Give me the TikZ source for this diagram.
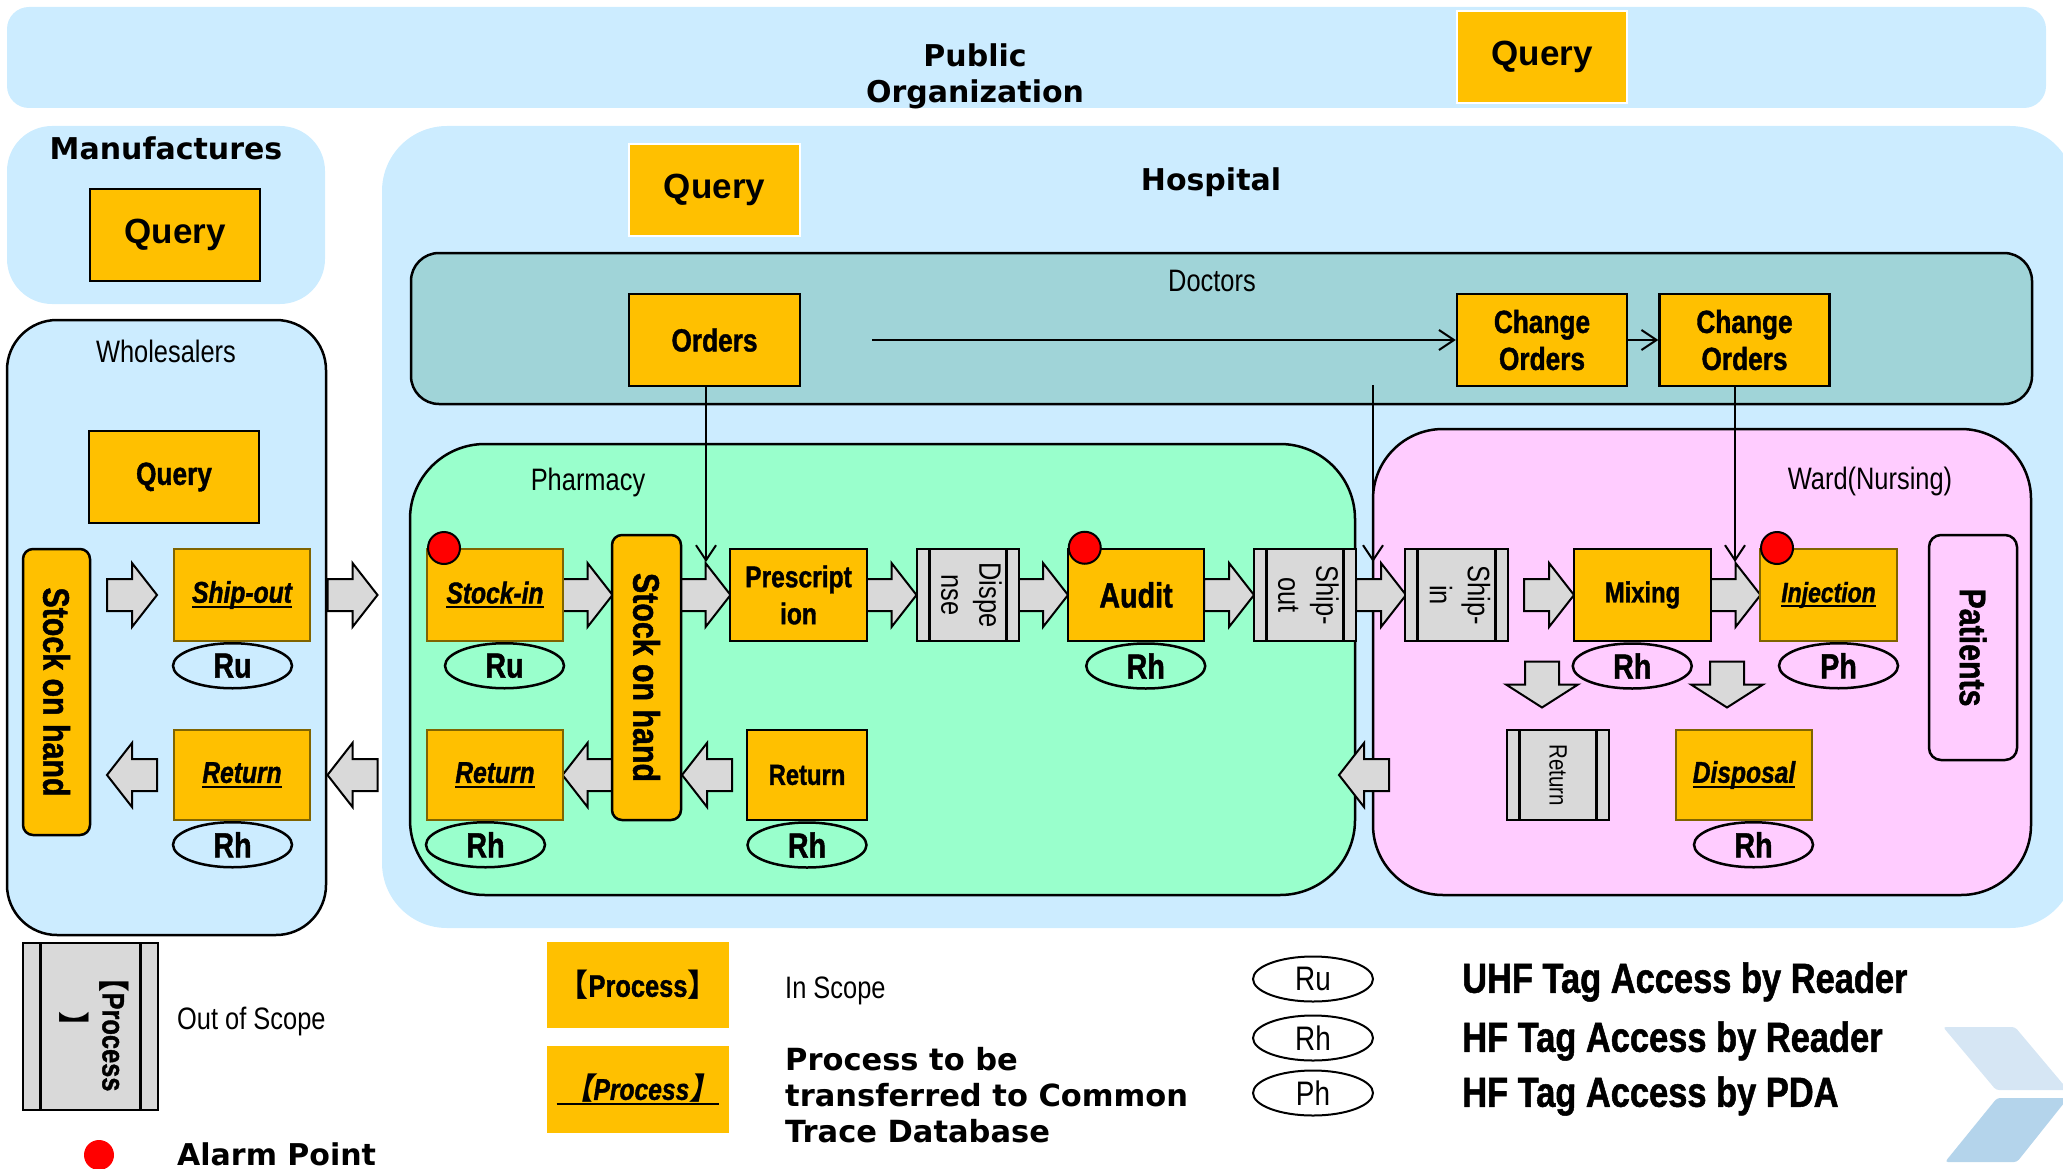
\documentclass[tikz,border=0pt]{standalone}
\usepackage{graphicx}
\usepackage{fontspec}
\setmainfont{Liberation Sans}
\newfontfamily\narrow[FakeStretch=0.82,BoldFeatures={FakeBold=1.2},BoldItalicFeatures={FakeBold=1.2}]{Liberation Sans}
\newfontfamily\heavy{DejaVu Sans}
\newfontfamily\cjk{Noto Sans CJK SC}
\newfontfamily\cjkit[FakeSlant=0.2]{Noto Sans CJK SC}
\usepackage{tikz}
\usetikzlibrary{arrows.meta}
\usetikzlibrary{positioning}
\usetikzlibrary{shapes.geometric}

\definecolor{procfill}{RGB}{255,192,0}
\definecolor{procedge}{RGB}{128,100,0}
\definecolor{outfill}{RGB}{217,217,217}
\definecolor{skyfill}{RGB}{204,236,255}
\definecolor{docfill}{RGB}{160,212,216}
\definecolor{pharmfill}{RGB}{153,255,204}
\definecolor{wardfill}{RGB}{255,204,255}
\definecolor{chevlight}{RGB}{214,230,244}
\definecolor{chevdark}{RGB}{180,212,235}

\newcommand\fsz[2]{\fontsize{#1}{#2}\selectfont}
\newcommand\dbline[1]{\sbox0{#1}\rlap{\rule[-5pt]{\wd0}{2.2pt}}\usebox0}

\begin{document}
\begin{tikzpicture}[x=1pt,y=-1pt,>={Straight Barb[length=15pt,width=20pt]},
  in box/.style={rectangle,draw=black,line width=2.5pt,fill=procfill,minimum width=136pt,
    minimum height=92pt,inner sep=0pt,align=center,font=\narrow\bfseries\fsz{30}{37}},
  db box/.style={in box,draw=procedge,line width=2pt,font=\narrow\bfseries\itshape\fsz{30}{37}},
  query box/.style={in box,minimum width=170pt,font=\bfseries\fsz{35}{40}},
  bar gap/.store in=\bargap,bar gap=12.5pt,
  out box/.style={rectangle,draw=black,line width=2.5pt,fill=outfill,minimum width=102pt,
    minimum height=92pt,inner sep=0pt,font=\narrow\fsz{31}{38},
    path picture={\draw[line width=2.5pt]
      ([xshift=\bargap]path picture bounding box.north west) -- ([xshift=\bargap]path picture bounding box.south west)
      ([xshift=-\bargap]path picture bounding box.north east) -- ([xshift=-\bargap]path picture bounding box.south east);}},
  stock box/.style={rectangle,rounded corners=10pt,draw=black,line width=2.5pt,fill=procfill,
    inner sep=0pt,font=\narrow\bfseries\fsz{37}{40}},
  tag node/.style={ellipse,draw=black,line width=2.5pt,minimum width=119pt,minimum height=45pt,
    inner sep=0pt,font=\narrow\bfseries\fsz{35}{40}},
  alarm node/.style={circle,draw=black,line width=2pt,fill=red,minimum size=32pt,inner sep=0pt},
  zone label/.style={inner sep=0pt,font=\narrow\fsz{31}{36}},
  title label/.style={inner sep=0pt,align=center,font=\heavy\bfseries\fsz{30}{36}},
  key label/.style={inner sep=0pt,anchor=west,font=\narrow\bfseries\fsz{42}{46}},
  link/.style={->,line width=2pt},
  fat arrow/.style={draw=black,line width=2pt,fill=outfill,line join=miter},
  fat right/.pic={\draw[fat arrow] (-25,-16) -- (0,-16) -- (0,-32) -- (25,0) -- (0,32) -- (0,16) -- (-25,16) -- cycle;},
  fat down/.pic={\draw[fat arrow] (-17,-23) -- (17,-23) -- (17,0) -- (36,0) -- (0,23) -- (-36,0) -- (-17,0) -- cycle;}]

  \path[use as bounding box,clip] (0,0) rectangle (2063,1169);

  % organisations
  \fill[skyfill,rounded corners=22pt] (7,7) rectangle (2046,108);
  \fill[skyfill,rounded corners=45pt] (7,126) rectangle (325,304);
  \draw[fill=skyfill,line width=2.5pt,rounded corners=50pt] (7,320) rectangle (326,935);
  \fill[skyfill,rounded corners=65pt] (382,126) rectangle (2075,928);
  \draw[fill=docfill,line width=2.5pt,rounded corners=28pt] (411,253) rectangle (2032,404);
  \draw[fill=pharmfill,line width=2.5pt,rounded corners=75pt] (410,444) rectangle (1355,895);
  \draw[fill=wardfill,line width=2.5pt,rounded corners=70pt] (1373,429) rectangle (2031,895);

  \node[title label] (pubname) at (975,76) {Public\\Organization};
  \node[title label] (manname) at (166,148) {Manufactures};
  \node[title label] (hospname) at (1211,182) {Hospital};
  \node[zone label] (wholename) at (166,351) {Wholesalers};
  \node[zone label] (docname) at (1212,281) {Doctors};
  \node[zone label] (pharmname) at (588,482) {Pharmacy};
  \node[zone label] (wardname) at (1870,481) {Ward(Nursing)};

  % goods flow
  \pic at (132,595) {fat right};
  \pic at (352.5,595) {fat right};
  \pic[rotate=180] at (132,775) {fat right};
  \pic[rotate=180] at (352.5,775) {fat right};
  \pic at (587.5,595) {fat right};
  \pic at (705.5,595) {fat right};
  \pic at (891.5,595) {fat right};
  \pic at (1043,595) {fat right};
  \pic at (1229,595) {fat right};
  \pic at (1381,595) {fat right};
  \pic at (1549,595) {fat right};
  \pic at (1735.5,595) {fat right};
  \pic[rotate=180] at (587.5,775) {fat right};
  \pic[rotate=180] at (707,775) {fat right};
  \pic[rotate=180] at (1364,775) {fat right};
  \pic at (1542,684.5) {fat down};
  \pic at (1727,684.5) {fat down};

  \node[query box,draw=white,line width=2pt] (pubq) at (1542,57) {Query};
  \node[query box] (manq) at (175,235) {Query};
  \node[query box,draw=white,line width=2pt,minimum width=171pt] (hospq) at (714.5,190) {Query};

  \node[in box,minimum width=170pt,font=\narrow\bfseries\fsz{32}{37}] (wholeq) at (174,477) {Query};
  \node[stock box,minimum width=67pt,minimum height=286pt] (wholesoh) at (56.5,692) {\rotatebox{-90}{Stock on hand}};
  \node[db box] (wholeship) at (242,595) {\dbline{Ship-out}};
  \node[db box,minimum height=90pt] (wholeret) at (242,775) {\dbline{Return}};

  \node[in box,minimum width=171pt,font=\narrow\bfseries\fsz{32}{37}] (orders) at (714.5,340) {Orders};
  \node[in box,minimum width=170pt,font=\narrow\bfseries\fsz{32}{37}] (chg1) at (1542,340) {Change\\Orders};
  \node[in box,minimum width=170pt,font=\narrow\bfseries\fsz{32}{37}] (chg2) at (1744.5,340) {Change\\Orders};

  \node[db box] (stockin) at (495,595) {\dbline{Stock-in}};
  \node[stock box,minimum width=69pt,minimum height=285pt] (pharmsoh) at (646.5,677.5) {\rotatebox{-90}{Stock on hand}};
  \node[in box,minimum width=137pt] (presc) at (798.5,595) {Prescript\\ion};
  \node[out box] (disp) at (968,595) {\rotatebox{-90}{\begin{tabular}{@{}c@{}}Dispe\\nse\end{tabular}}};
  \node[in box,font=\narrow\bfseries\fsz{35}{40}] (audit) at (1136,595) {Audit};
  \node[out box] (pharmship) at (1305,595) {\rotatebox{-90}{\begin{tabular}{@{}c@{}}Ship-\\out\end{tabular}}};
  \node[db box,minimum height=90pt] (pharmret) at (495,775) {\dbline{Return}};
  \node[in box,minimum width=120pt,minimum height=90pt,font=\narrow\bfseries\fsz{29}{35}] (pharmret2) at (807,775) {Return};

  \node[out box,minimum width=103pt] (wardship) at (1456.5,595) {\rotatebox{-90}{\begin{tabular}{@{}c@{}}Ship-\\in\end{tabular}}};
  \node[in box,minimum width=137pt,font=\narrow\bfseries\fsz{29}{35}] (mixing) at (1642.5,595) {Mixing};
  \node[db box,minimum width=137pt,font=\narrow\bfseries\itshape\fsz{28}{35}] (inject) at (1828.5,595) {\dbline{Injection}};
  \node[out box,minimum height=90pt,font=\narrow\fsz{25}{30}] (wardret) at (1558,775) {\rotatebox{-90}{Return}};
  \node[db box,minimum height=90pt] (disposal) at (1744,775) {\dbline{Disposal}};
  \node[stock box,fill=none,rounded corners=12pt,minimum width=88pt,minimum height=225pt] (patients) at (1973,647.5) {\rotatebox{-90}{Patients}};

  % readers
  \node[tag node,below=0pt of wholeship.south west,xshift=59.5pt] (wholeshiptag) {Ru};
  \node[tag node,below=0pt of wholeret.south west,xshift=59.5pt] (wholerettag) {Rh};
  \node[tag node,below=0pt of stockin.south east,xshift=-59.5pt] (stockintag) {Ru};
  \node[tag node,below=0pt of pharmret.south west,xshift=59.5pt] (pharmrettag) {Rh};
  \node[tag node,below=0pt of pharmret2.south] (pharmret2tag) {Rh};
  \node[tag node,below=0pt of audit.south east,xshift=-59.5pt] (audittag) {Rh};
  \node[tag node,below=0pt of mixing.south west,xshift=59.5pt] (mixingtag) {Rh};
  \node[tag node,below=0pt of inject.south east,xshift=-59.5pt] (injecttag) {Ph};
  \node[tag node,below=0pt of disposal.south east,xshift=-59.5pt] (disposaltag) {Rh};

  \node[alarm node] (stockinalarm) at ([xshift=18pt]stockin.north west) {};
  \node[alarm node] (auditalarm) at ([xshift=18pt]audit.north west) {};
  \node[alarm node] (injectalarm) at ([xshift=18pt]inject.north west) {};

  % orders
  \coordinate (ordtail) at (872,340);
  \coordinate (presctip) at (706,562);
  \coordinate (shiptail) at (1373,385);
  \coordinate (shiptip) at (1373,562);
  \coordinate (injtip) at (1735,562);
  \draw[link] (ordtail) -- (chg1.west);
  \draw[link] (chg1.east) -- (chg2.west);
  \draw[link] (orders.south -| presctip) -- (presctip);
  \draw[link] (shiptail) -- (shiptip);
  \draw[link] (chg2.south -| injtip) -- (injtip);

  % legend
  \node[out box,bar gap=17.5pt,minimum width=135pt,minimum height=167pt,font=\narrow\bfseries\fsz{31}{40}] (keyout) at (90.5,1026.5)
    {\rotatebox{-90}{\begin{tabular}{@{}c@{}}{\cjk 【}Process\\{\cjk 】}\end{tabular}}};
  \node[zone label,anchor=west] (keyoutname) at (177,1021) {Out of Scope};
  \node[alarm node,draw=none,minimum size=30pt] (keyalarm) at (99,1155) {};
  \node[title label,anchor=west] (keyalarmname) at (177,1154) {Alarm Point};
  \node[in box,draw=none,minimum width=182pt,minimum height=86pt,font=\narrow\bfseries\fsz{31}{34}] (keyin) at (638,985)
    {{\cjk 【}Process{\cjk 】}};
  \node[zone label,anchor=west] (keyinname) at (785,991) {In Scope};
  \node[db box,draw=none,minimum width=182pt,minimum height=87pt,font=\narrow\bfseries\itshape\fsz{30}{34}] (keydb) at (638,1089.5)
    {\dbline{\ {\cjkit 【}Process{\cjkit 】}}};
  \node[title label,anchor=west,align=left,font=\heavy\bfseries\fsz{30.5}{36}] (keydbname) at (785,1095) {Process to be\\transferred to Common\\Trace Database};

  \node[tag node,line width=2pt,minimum width=120pt,font=\narrow\fsz{34}{40}] (keyru) at (1313,979) {Ru};
  \node[tag node,line width=2pt,minimum width=120pt,font=\narrow\fsz{34}{40}] (keyrh) at (1313,1038) {Rh};
  \node[tag node,line width=2pt,minimum width=120pt,font=\narrow\fsz{34}{40}] (keyph) at (1313,1093) {Ph};
  \node[key label] (keyruname) at (1462,982) {UHF Tag Access by Reader};
  \node[key label] (keyrhname) at (1462,1041) {HF Tag Access by Reader};
  \node[key label] (keyphname) at (1462,1096) {HF Tag Access by PDA};

  \fill[chevlight,rounded corners=3pt] (1943,1027) -- (2015,1027) -- (2068,1090) -- (1996,1090) -- cycle;
  \fill[chevdark,rounded corners=3pt] (1997,1098) -- (2068,1098) -- (2017,1162) -- (1945,1162) -- cycle;
\end{tikzpicture}
\end{document}
